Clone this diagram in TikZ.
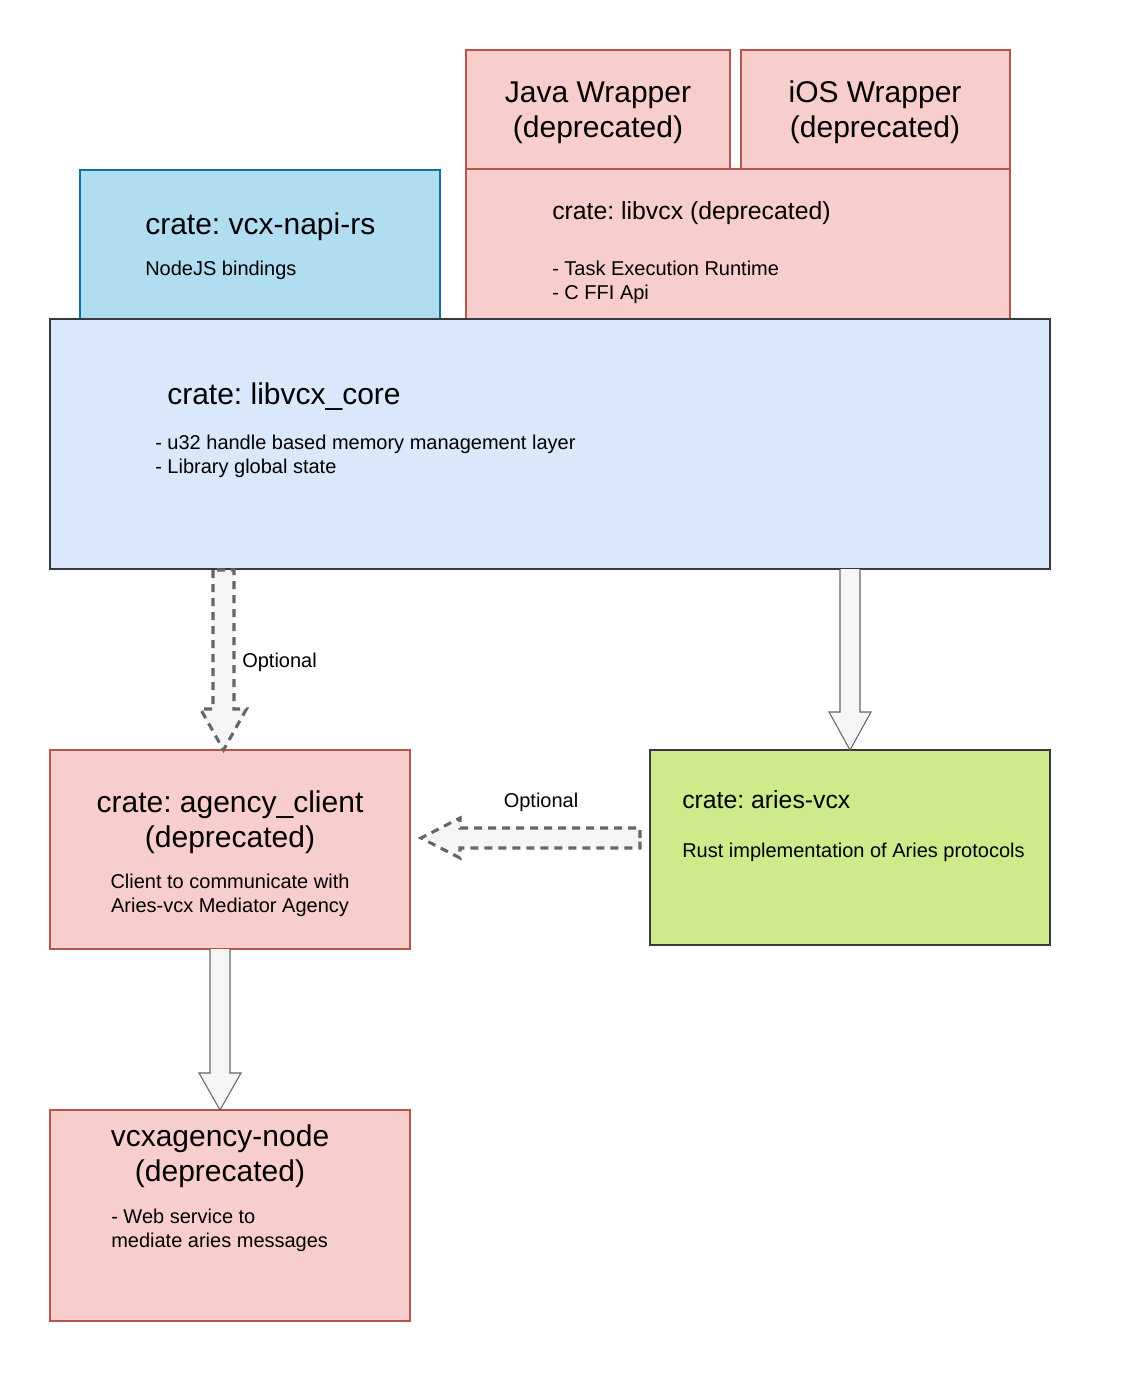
\documentclass[tikz,border=0pt]{standalone}
\usepackage{fontspec}
\setmainfont{Liberation Sans}
\usetikzlibrary{calc,fit}
\frenchspacing
\definecolor{redfill}{HTML}{F8CECC}
\definecolor{redline}{HTML}{B85450}
\definecolor{corefill}{HTML}{DAE8FC}
\definecolor{coreline}{HTML}{36393D}
\definecolor{napifill}{HTML}{B1DDF0}
\definecolor{napiline}{HTML}{10739E}
\definecolor{ariesfill}{HTML}{CDEB8B}
\definecolor{arrowfill}{HTML}{F5F5F5}
\definecolor{arrowline}{HTML}{666666}
\begin{document}
\begin{tikzpicture}[x=0.75pt,y=-0.75pt,
  boxbase/.style={inner sep=0pt,outer sep=0pt,line width=0.8pt},
  redbox/.style={boxbase,draw=redline,fill=redfill},
  corebox/.style={boxbase,draw=coreline,fill=corefill,line width=1pt},
  napibox/.style={boxbase,draw=napiline,fill=napifill},
  ariesbox/.style={boxbase,draw=coreline,fill=ariesfill},
  bigtxt/.style={inner sep=0pt,font=\fontsize{22.5}{25}\selectfont},
  midtxt/.style={inner sep=0pt,font=\fontsize{18.6}{22}\selectfont},
  smalltxt/.style={inner sep=0pt,font=\fontsize{15}{18}\selectfont},
  solidarrow/.style={draw=arrowline,fill=arrowfill,line width=0.8pt,line join=miter},
  dasharrow/.style={draw=arrowline,fill=arrowfill,line width=2.3pt,dash pattern=on 6pt off 4.5pt,line join=miter}]
\useasboundingbox (0,0) rectangle (1121,1373);

% upper layer: bindings and wrappers
\node[napibox,fit={(80,170) (440,319)}] (napi) {};
\node[redbox,fit={(466,50) (730,169)}] (java) {};
\node[redbox,fit={(741,50) (1010,170)}] (ios) {};
\node[redbox,fit={(466,169) (1010,319)}] (libvcx) {};

% core crate
\node[corebox,fit={(50,319) (1050,569)}] (core) {};

% lower layer
\node[redbox,fit={(50,750) (410,949)}] (agency) {};
\node[ariesbox,fit={(650,750) (1050,945)}] (aries) {};
\node[redbox,fit={(50,1110) (410,1321)}] (agencynode) {};

% texts
\node[bigtxt,anchor=base west] (napiT) at (145,235) {crate: vcx-napi-rs};
\node[smalltxt,anchor=base west] (napiD) at (145,276) {NodeJS bindings};

\node[bigtxt,anchor=base] (javaT1) at (598,103) {Java Wrapper};
\node[bigtxt,anchor=base] (javaT2) at (598,138) {(deprecated)};
\node[bigtxt,anchor=base] (iosT1) at (875,103) {iOS Wrapper};
\node[bigtxt,anchor=base] (iosT2) at (875,138) {(deprecated)};

\node[midtxt,anchor=base west] (libT) at (552,220) {crate: libvcx (deprecated)};
\node[smalltxt,anchor=base west] (libD1) at (552,275) {- Task Execution Runtime};
\node[smalltxt,anchor=base west] (libD2) at (552,299) {- C FFI Api};

\node[bigtxt,anchor=base west] (coreT) at (167,404) {crate: libvcx\_core};
\node[smalltxt,anchor=base west] (coreD1) at (155,449) {- u32 handle based memory management layer};
\node[smalltxt,anchor=base west] (coreD2) at (155,473) {- Library global state};

\node[bigtxt,anchor=base] (agT1) at (230,812) {crate: agency\_client};
\node[bigtxt,anchor=base] (agT2) at (230,847) {(deprecated)};
\node[smalltxt,anchor=base] (agD1) at (230,888) {Client to communicate with};
\node[smalltxt,anchor=base] (agD2) at (230,912) {Aries-vcx Mediator Agency};

\node[midtxt,anchor=base west] (arT) at (682,808) {crate: aries-vcx};
\node[smalltxt,anchor=base west] (arD) at (682,857) {Rust implementation of Aries protocols};

\node[bigtxt,anchor=base] (anT1) at (220,1146) {vcxagency-node};
\node[bigtxt,anchor=base] (anT2) at (220,1181) {(deprecated)};
\node[smalltxt,anchor=base west] (anD1) at (111,1223) {- Web service to};
\node[smalltxt,anchor=base west] (anD2) at (111,1247) {mediate aries messages};

% connector anchors
\coordinate (xopt) at (223.5,0);
\coordinate (xbot) at (220,0);
\coordinate (yopt) at (0,838);
\coordinate (o1) at (core.south -| xopt);
\coordinate (o2) at (agency.north -| xopt);
\coordinate (r1) at (core.south -| aries.north);
\coordinate (r2) at (aries.north);
\coordinate (h1) at ($(aries.west |- yopt)+(-10,0)$);
\coordinate (h2) at ($(agency.east |- yopt)+(11,0)$);
\coordinate (b1) at (agency.south -| xbot);
\coordinate (b2) at (agencynode.north -| xbot);

% optional dependency: core -> agency client
\draw[dasharrow] ($(o1)+(-10.5,1)$) -- ($(o2)+(-10.5,-41)$) -- ($(o2)+(-23,-41)$) -- (o2)
  -- ($(o2)+(23,-41)$) -- ($(o2)+(10.5,-41)$) -- ($(o1)+(10.5,1)$) -- cycle;
\node[smalltxt,anchor=base west] (optV) at (242,667) {Optional};

% core -> aries-vcx
\draw[solidarrow] ($(r1)+(-10,0)$) -- ($(r2)+(-10,-38)$) -- ($(r2)+(-21,-38)$) -- (r2)
  -- ($(r2)+(21,-38)$) -- ($(r2)+(10,-38)$) -- ($(r1)+(10,0)$);

% optional dependency: aries-vcx -> agency client
\draw[dasharrow] (h1) -- ++(0,-10) -- ($(h2)+(39,-10)$) -- ($(h2)+(39,-20)$) -- (h2)
  -- ($(h2)+(39,20)$) -- ($(h2)+(39,10)$) -- ($(h1)+(0,10)$) -- cycle;
\node[smalltxt,anchor=base] (optH) at (541,807) {Optional};

% agency client -> agency node
\draw[solidarrow] ($(b1)+(-10,0)$) -- ($(b2)+(-10,-37)$) -- ($(b2)+(-21,-37)$) -- (b2)
  -- ($(b2)+(21,-37)$) -- ($(b2)+(10,-37)$) -- ($(b1)+(10,0)$);
\end{tikzpicture}
\end{document}
